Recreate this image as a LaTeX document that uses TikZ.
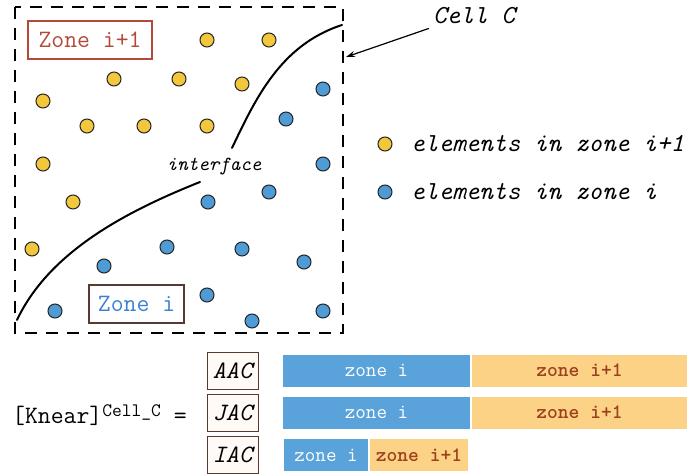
\documentclass[tikz,border=0pt]{standalone}
\usepackage{fontspec}
\newcommand\mono{\ttfamily}
\usetikzlibrary{arrows.meta}
\definecolor{ycol}{HTML}{F2C73C}
\definecolor{bcol}{HTML}{4E9BD5}
\definecolor{barblue}{HTML}{5AA2DA}
\definecolor{barorange}{HTML}{FCD386}
\definecolor{redtxt}{HTML}{B24A3A}
\definecolor{bluetxt}{HTML}{3B7FD4}
\definecolor{darkred}{HTML}{9E3F1E}
\definecolor{boxbrown}{HTML}{5A3A30}
\begin{document}
\begin{tikzpicture}[x=1pt,y=-1pt,
  elem/.style={circle,draw=black!85,line width=1pt,minimum size=14pt,inner sep=0pt},
  yel/.style={elem,fill=ycol},
  blu/.style={elem,fill=bcol},
  frame/.style={line width=2.3pt,dash pattern=on 12pt off 9pt},
  curve/.style={line width=2pt,line cap=round},
  zonebox/.style={draw,line width=1.5pt,inner sep=0pt,font=\mono\fontsize{25}{25}\selectfont},
  lbl/.style={inner sep=0pt,font=\mono\itshape\fontsize{26}{26}\selectfont},
  matbox/.style={draw=boxbrown,line width=1pt,fill=orange!4,minimum width=51pt,minimum height=37pt,inner sep=0pt,font=\mono\itshape\fontsize{25}{25}\selectfont},
  bbar/.style={fill=barblue,text=white,minimum height=32pt,inner sep=0pt,font=\mono\fontsize{20.5}{20.5}\selectfont},
  obar/.style={fill=barorange,text=darkred,minimum height=32pt,inner sep=0pt,font=\mono\bfseries\fontsize{20.5}{20.5}\selectfont}
]
\useasboundingbox (0,0) rectangle (694,476);

% cell frame
\draw[frame] (15,7) rectangle (343,333);
\coordinate (ctip) at (346,57);

% interface curve
\draw[curve] (232,148) .. controls (255,100) and (280,45) .. (342,25);
\draw[curve] (200,182) .. controls (130,210) and (50,250) .. (17,320);
\node[lbl,font=\mono\itshape\fontsize{20}{20}\selectfont] (iface) at (214,167) {interface};

% zone labels
\node[zonebox,draw=redtxt,text=redtxt,minimum width=124pt,minimum height=38pt] (zip) at (90,40) {Zone i+1};
\node[zonebox,draw=boxbrown,text=bluetxt,minimum width=95pt,minimum height=38pt] (zi) at (136.5,304) {Zone i};

% yellow elements
\node[yel] (y1) at (207,40) {};
\node[yel] (y2) at (269,40) {};
\node[yel] (y3) at (114,79) {};
\node[yel] (y4) at (179,79) {};
\node[yel] (y5) at (242,84) {};
\node[yel] (y6) at (43,101) {};
\node[yel] (y7) at (87,126) {};
\node[yel] (y8) at (144,126) {};
\node[yel] (y9) at (207,126) {};
\node[yel] (y10) at (43,164) {};
\node[yel] (y11) at (73,202) {};
\node[yel] (y12) at (32,249) {};

% blue elements
\node[blu] (b1) at (323,89) {};
\node[blu] (b2) at (286,119) {};
\node[blu] (b3) at (323,164) {};
\node[blu] (b4) at (269,192) {};
\node[blu] (b5) at (208,202) {};
\node[blu] (b6) at (167,247) {};
\node[blu] (b7) at (242,249) {};
\node[blu] (b8) at (104,266) {};
\node[blu] (b9) at (304,262) {};
\node[blu] (b10) at (207,295) {};
\node[blu] (b11) at (55,311) {};
\node[blu] (b12) at (252,321) {};
\node[blu] (b13) at (323,311) {};

% Cell C label
\node[lbl] (cellc) at (474,16) {Cell C};
\draw[line width=1.2pt,-{Stealth[length=9pt,width=6pt]}] (cellc.south west) ++(-4,4) coordinate (cstart) (cstart) -- (ctip);

% legend
\node[yel] (ly) at (385,144) {};
\node[lbl,anchor=west] (lyt) at (411,144) {elements in zone i+1};
\node[blu] (lb) at (385,192) {};
\node[lbl,anchor=west] (lbt) at (411,192) {elements in zone i};

% matrix
\node[inner sep=0pt,anchor=base west,font=\mono\fontsize{25}{25}\selectfont] (knear) at (12,423)
  {[Knear]\raisebox{7pt}{\fontsize{19}{19}\selectfont Cell\_C} =};
\node[matbox] (aac) at (232.5,370.5) {AAC};
\node[matbox] (jac) at (232.5,412.5) {JAC};
\node[matbox] (iac) at (232.5,454.5) {IAC};

\node[bbar,minimum width=187pt] (r1b) at (376.5,370.5) {zone i};
\node[obar,minimum width=215pt] (r1o) at (579.5,370.5) {zone i+1};
\node[bbar,minimum width=187pt] (r2b) at (376.5,412.5) {zone i};
\node[obar,minimum width=215pt] (r2o) at (579.5,412.5) {zone i+1};
\node[bbar,minimum width=84pt] (r3b) at (326,455) {zone i};
\node[obar,minimum width=98pt] (r3o) at (419,455) {zone i+1};
\end{tikzpicture}
\end{document}
